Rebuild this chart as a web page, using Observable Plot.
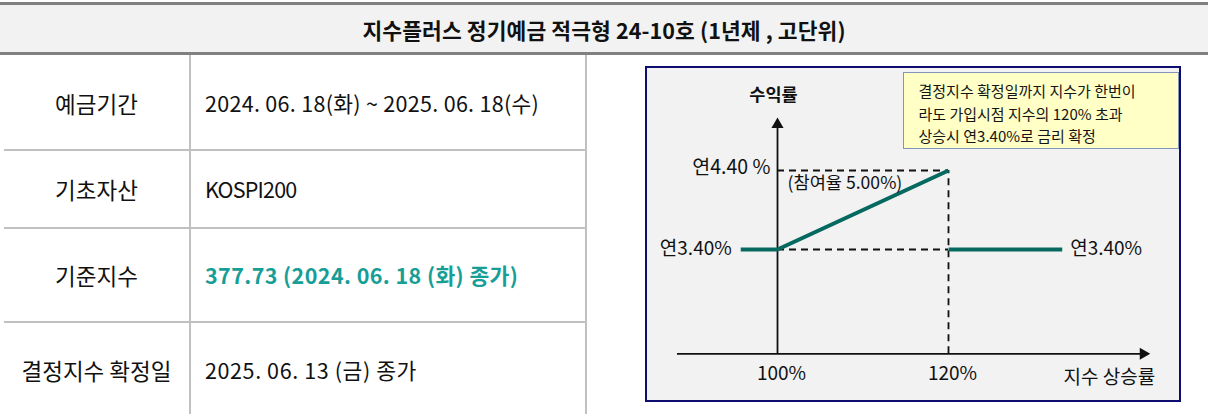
<!DOCTYPE html>
<html><head><meta charset="utf-8">
<script src="https://cdn.jsdelivr.net/npm/d3@7"></script>
<script src="https://cdn.jsdelivr.net/npm/@observablehq/plot@0.6"></script>
<style>
html,body{margin:0;padding:0;background:#fff}
body{width:1208px;height:414px;overflow:hidden;position:relative;font-family:"Noto Sans CJK KR","Noto Sans",sans-serif;color:#111}
#title{position:absolute;left:0;top:2px;width:1208px;height:53px;box-sizing:border-box;border-top:3px solid #808080;border-bottom:3px solid #808080;background:#f2f2f2;text-align:center;font-weight:700;font-size:21.5px;line-height:49px;letter-spacing:0.1px}
.hline{position:absolute;left:4px;width:583px;height:2px;background:#c0c0c0}
.vline{position:absolute;top:55px;width:2px;height:359px;background:#c0c0c0}
.lab{position:absolute;left:4px;width:185px;text-align:center;font-size:22.5px;letter-spacing:0px}
.val{position:absolute;left:205px;font-size:21.5px;white-space:nowrap}
#chartbox{position:absolute;left:645px;top:66px;width:536px;height:336px;box-sizing:border-box;border:2px solid #0d0d70;background:#f2f2f2}
#notebox{position:absolute;left:256px;top:4px;width:276px;height:77px;box-sizing:border-box;background:#ffffc6;border:1px solid #8196b8}
#plot{position:absolute;left:0;top:0}
</style></head>
<body>
<div id="title"></div>
<div id="table"></div>
<div id="chartbox"><div id="notebox"></div><div id="plot"></div></div>
<script>
// ---- data ----
const titleText = "지수플러스 정기예금 적극형 24-10호 (1년제 , 고단위)";
const tableLabels = ["예금기간", "기초자산", "기준지수", "결정지수 확정일"];
const tableValues = ["2024. 06. 18(화) ~ 2025. 06. 18(수)", "KOSPI200", "377.73 (2024. 06. 18 (화) 종가)", "2025. 06. 13 (금) 종가"];
const highlightRow = 2;
const noteLines = ["결정지수 확정일까지 지수가 한번이", "라도 가입시점 지수의 120% 초과", "상승시 연3.40%로 금리 확정"];

const xTicks = [100, 120];                 // 지수 상승률 (%)
const xTickLabels = ["100%", "120%"];
const rateBase = 3.40;                     // 연 3.40%
const rateMax = 4.40;                      // 연 4.40%
const participation = "5.00%";
const payoffRising = [{x: 95.7, y: 3.40}, {x: 100, y: 3.40}, {x: 120, y: 4.40}];
const payoffKnockOut = [{x: 120, y: 3.40}, {x: 133.3, y: 3.40}];
const axisX = [88.3, 143.6];               // horizontal axis extent
const axisY = [2.08, 5.07];                // vertical axis extent
const yAxisTitle = "수익률";
const xAxisTitle = "지수 상승률";

// ---- HTML parts ----
document.getElementById("title").textContent = titleText;
const tbl = document.getElementById("table");
const rowBounds = [55, 150, 228, 322, 418];
const valSpacing = ["0.3px", "-0.8px", "0.4px", "0.6px"];
let html = "";
tableLabels.forEach((lab, i) => {
  const top = rowBounds[i], bot = rowBounds[i + 1];
  const mid = (top + bot) / 2;
  html += `<div class="lab" style="top:${mid - 15}px;line-height:30px">${lab}</div>`;
  const st = i === highlightRow ? "color:#169e97;font-weight:700;" : "";
  html += `<div class="val" style="top:${mid - 15}px;line-height:30px;letter-spacing:${valSpacing[i]};${st}">${tableValues[i]}</div>`;
  if (i > 0) html += `<div class="hline" style="top:${top - 1}px"></div>`;
});
html += `<div class="vline" style="left:189px"></div><div class="vline" style="left:585px"></div>`;
tbl.innerHTML = html;

// ---- Plot ----
const ink = "#111";
const teal = "#06695f";
const dash = "7,5";
const noteFont = 15;
const chart = Plot.plot({
  width: 532, height: 332,
  margin: 0,
  x: {domain: xTicks, range: [130, 301], axis: null},
  y: {domain: [rateBase, rateMax], range: [181, 102], axis: null},
  style: {background: "transparent", fontFamily: '"Noto Sans CJK KR", sans-serif', color: ink, overflow: "visible"},
  marks: [
    // dashed guides
    Plot.ruleY([rateMax, rateBase], {x1: xTicks[0], x2: xTicks[1], stroke: ink, strokeWidth: 1.8, strokeDasharray: dash}),
    Plot.ruleX([xTicks[1]], {y1: axisY[0], y2: rateMax, stroke: ink, strokeWidth: 1.8, strokeDasharray: dash}),
    // axes
    Plot.ruleX([xTicks[0]], {y1: axisY[0], y2: axisY[1] - 0.05, stroke: ink, strokeWidth: 1.8}),
    Plot.ruleY([axisY[0]], {x1: axisX[0], x2: axisX[1] - 0.5, stroke: ink, strokeWidth: 1.8}),
    Plot.dot([{x: xTicks[0], y: axisY[1]}], {x: "x", y: "y", symbol: "triangle", r: 4.5, fill: ink, stroke: null, dy: 7}),
    Plot.dot([{x: axisX[1], y: axisY[0]}], {x: "x", y: "y", symbol: "triangle", r: 4.5, fill: ink, stroke: null, rotate: 90, dx: -7}),
    // payoff
    Plot.line(payoffRising, {x: "x", y: "y", stroke: teal, strokeWidth: 4, strokeLinecap: "butt", strokeLinejoin: "miter"}),
    Plot.line(payoffKnockOut, {x: "x", y: "y", stroke: teal, strokeWidth: 4, strokeLinecap: "butt"}),
    // texts
    Plot.text([yAxisTitle], {x: xTicks[0], y: axisY[1], text: d => d, dy: -22, dx: -4, fontSize: 17.5, fontWeight: 600, fill: ink}),
    Plot.text([`연${rateMax.toFixed(2)} %`], {x: xTicks[0], y: rateMax, text: d => d, textAnchor: "end", dx: -7, dy: -3, fontSize: 19.5, fill: ink}),
    Plot.text([`(참여율 ${participation})`], {x: xTicks[0], y: rateMax, text: d => d, textAnchor: "start", dx: 10, dy: 13, fontSize: 17.6, fill: ink}),
    Plot.text([`연${rateBase.toFixed(2)}%`], {x: payoffRising[0].x, y: rateBase, text: d => d, textAnchor: "end", dx: -9, dy: -1, fontSize: 19, fill: ink}),
    Plot.text([`연${rateBase.toFixed(2)}%`], {x: payoffKnockOut[1].x, y: rateBase, text: d => d, textAnchor: "start", dx: 8, dy: -1, fontSize: 19, fill: ink}),
    Plot.text(xTicks, {x: d => d, y: axisY[0], text: (d, i) => xTickLabels[i], dy: 20, dx: 4, fontSize: 19, fill: ink}),
    Plot.text([xAxisTitle], {x: axisX[1], y: axisY[0], text: d => d, textAnchor: "end", dx: 5, dy: 24, fontSize: 19, fill: ink}),
    // note text (one multi-line text element)
    Plot.text([noteLines.join("\n")], {frameAnchor: "top-left", text: d => d, textAnchor: "start", lineAnchor: "top", lineHeight: 22.3 / noteFont, dx: 271, dy: 13, fontSize: noteFont, letterSpacing: "1.2px", fill: "#151515"})
  ]
});
document.getElementById("plot").appendChild(chart);
</script>
</body></html>
